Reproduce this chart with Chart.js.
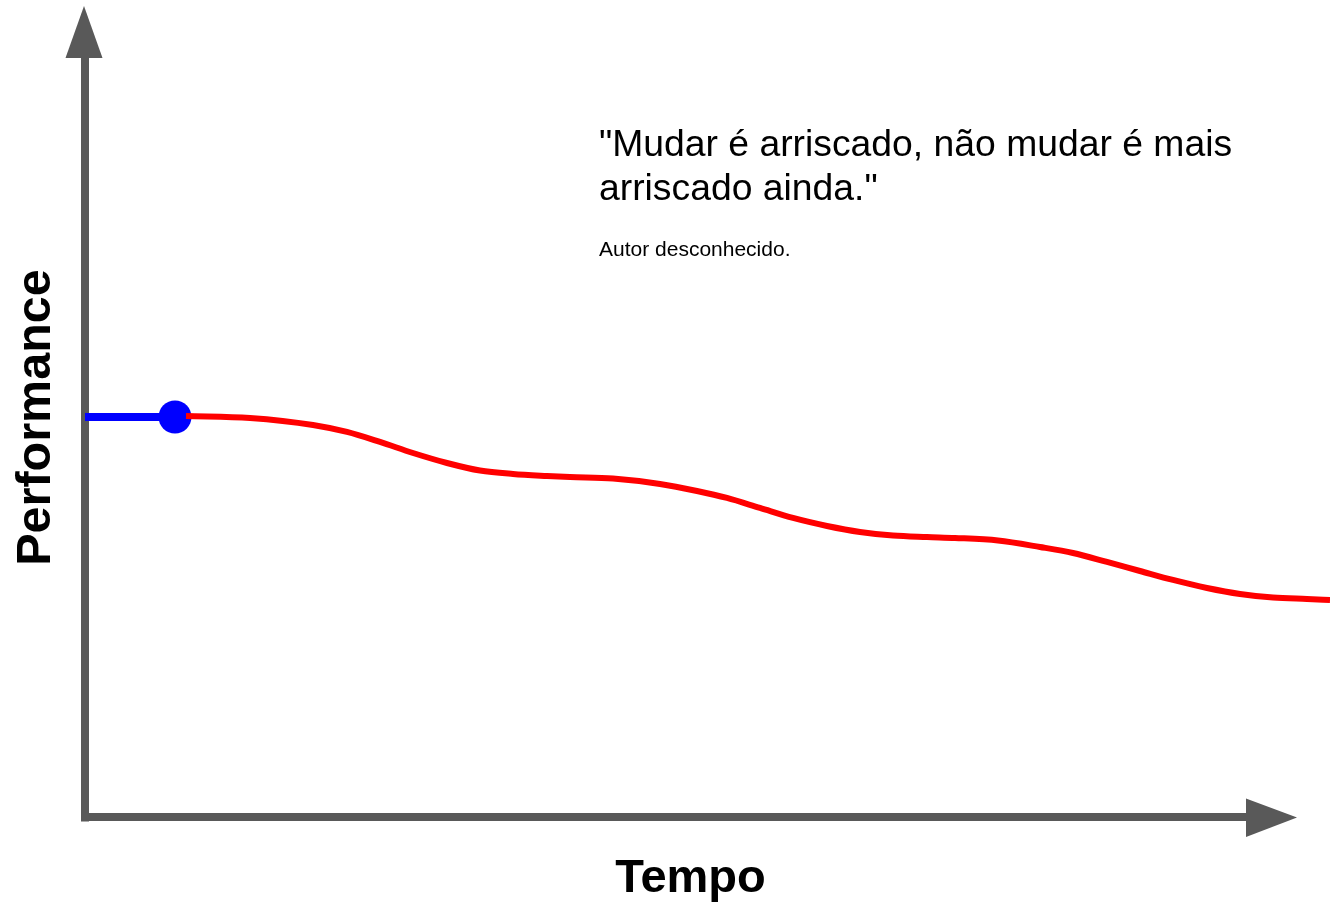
<!DOCTYPE html>
<html>
<head>
<meta charset="utf-8">
<script src="https://cdn.jsdelivr.net/npm/chart.js@4.4.1/dist/chart.umd.min.js"></script>
<style>
  html, body { margin: 0; padding: 0; background: #ffffff; }
  #wrap { width: 1330px; height: 902px; position: relative; }
</style>
</head>
<body>
<div id="wrap"><canvas id="c" width="1330" height="902"></canvas></div>
<script>
// ---- data ----
const beforeTime = [0, 9];
const beforePerf = [50, 50];
const afterTime = [10.1, 16.5, 22.8, 26.2, 29.5, 32.8, 36.2, 39.5, 42.8, 46.2, 48.5,
                   52.8, 57.5, 61.2, 64.2, 67.5, 70.8, 74.2, 77.5, 80.8, 84.2, 87.0,
                   91.3, 95.5, 98.8, 102.2, 105.5, 108.8, 112.2, 115.5, 118.8, 122.2, 124.5];
const afterPerf = [50.13, 49.88, 49.0, 48.13, 46.88, 45.5, 44.25, 43.31, 42.88, 42.63, 42.5,
                   42.31, 41.63, 40.75, 39.88, 38.63, 37.38, 36.38, 35.63, 35.19, 35.0, 34.88,
                   34.56, 33.75, 33.0, 31.88, 30.75, 29.63, 28.63, 27.88, 27.44, 27.25, 27.13];
const changeTime = [9];
const changePerf = [50];
const quoteLines = ['"Mudar é arriscado, não mudar é mais', 'arriscado ainda."'];
const authorText = 'Autor desconhecido.';
const yTitle = 'Performance';
const xTitle = 'Tempo';

const toXY = (xs, ys) => xs.map((x, i) => ({ x: x, y: ys[i] }));

const FONT = '"Liberation Sans", Arial, Helvetica, sans-serif';
const AXIS = '#595959';

const decor = {
  id: 'decor',
  beforeDatasetsDraw(chart) {
    const ctx = chart.ctx;
    const xs = chart.scales.x, ys = chart.scales.y;
    const x0 = xs.getPixelForValue(0);
    const y0 = ys.getPixelForValue(0);
    ctx.save();
    ctx.fillStyle = AXIS;
    // vertical axis shaft
    ctx.fillRect(x0 - 4, 56, 8, y0 + 4.5 - 56);
    // horizontal axis shaft
    ctx.fillRect(x0 - 4, y0 - 4, 1248 - (x0 - 4), 8);
    // up arrow head
    ctx.beginPath();
    ctx.moveTo(x0 - 1, 6);
    ctx.lineTo(x0 - 19.5, 58);
    ctx.lineTo(x0 + 17.5, 58);
    ctx.closePath();
    ctx.fill();
    // right arrow head
    ctx.beginPath();
    ctx.moveTo(1297, y0 + 0.5);
    ctx.lineTo(1246, y0 - 18.5);
    ctx.lineTo(1246, y0 + 20);
    ctx.closePath();
    ctx.fill();

    // texts
    ctx.fillStyle = '#000000';
    ctx.textAlign = 'left';
    ctx.textBaseline = 'alphabetic';
    ctx.font = '37.3px ' + FONT;
    ctx.fillText(quoteLines[0], 599, 156);
    ctx.fillText(quoteLines[1], 599, 200);
    ctx.font = '21px ' + FONT;
    ctx.fillText(authorText, 599, 256);

    ctx.font = 'bold 47px ' + FONT;
    ctx.textAlign = 'center';
    ctx.fillText(xTitle, 690.5, 892);

    ctx.save();
    ctx.translate(50, 417.5);
    ctx.rotate(-Math.PI / 2);
    ctx.font = 'bold 48.5px ' + FONT;
    ctx.textAlign = 'center';
    ctx.fillText(yTitle, 0, 0);
    ctx.restore();
    ctx.restore();
  }
};

new Chart(document.getElementById('c'), {
  type: 'line',
  data: {
    datasets: [
      {
        label: 'Depois',
        data: toXY(afterTime, afterPerf),
        borderColor: '#ff0000',
        borderWidth: 6,
        pointRadius: 0,
        cubicInterpolationMode: 'monotone',
        fill: false,
        clip: false,
        order: 0
      },
      {
        label: 'Antes',
        data: toXY(beforeTime, beforePerf),
        borderColor: '#0000ff',
        borderWidth: 8,
        pointRadius: 0,
        borderCapStyle: 'butt',
        fill: false,
        clip: false,
        order: 2
      },
      {
        label: 'Mudança',
        data: toXY(changeTime, changePerf),
        showLine: false,
        pointRadius: 16.5,
        pointBackgroundColor: '#0000ff',
        pointBorderWidth: 0,
        borderColor: '#0000ff',
        clip: false,
        order: 1
      }
    ]
  },
  options: {
    responsive: false,
    maintainAspectRatio: false,
    devicePixelRatio: 1,
    animation: false,
    layout: { autoPadding: false, padding: { left: 85, right: 0, top: 17, bottom: 85 } },
    plugins: { legend: { display: false }, tooltip: { enabled: false }, title: { display: false } },
    scales: {
      x: { type: 'linear', min: 0, max: 124.5, display: false },
      y: { type: 'linear', min: 0, max: 100, display: false }
    }
  },
  plugins: [decor]
});
</script>
</body>
</html>
